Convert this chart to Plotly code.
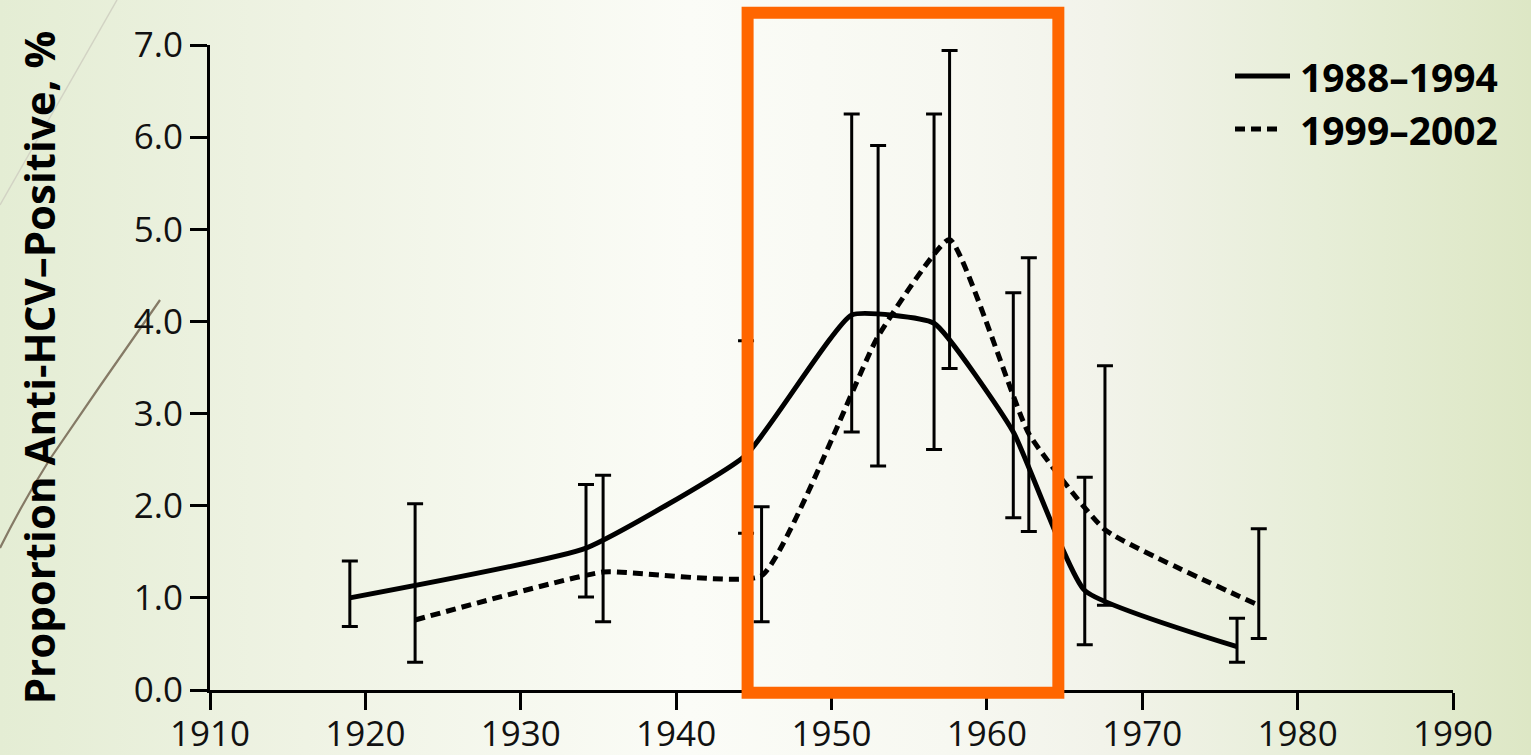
import base64
import plotly.graph_objects as go

# Birth-cohort prevalence, NHANES 1988-1994 survey
years_8894 = [1919.0, 1934.2, 1944.5, 1951.3, 1956.6, 1961.7, 1966.3, 1976.1]
pct_8894 = [1.00, 1.54, 2.55, 4.07, 3.98, 2.80, 1.08, 0.47]
lo_8894 = [0.69, 1.01, 1.70, 2.80, 2.61, 1.87, 0.49, 0.30]
hi_8894 = [1.40, 2.23, 3.79, 6.25, 6.25, 4.31, 2.31, 0.78]

# Birth-cohort prevalence, NHANES 1999-2002 survey
years_9902 = [1923.2, 1935.3, 1945.5, 1953.0, 1957.6, 1962.7, 1967.6, 1977.5]
pct_9902 = [0.76, 1.28, 1.24, 3.84, 4.89, 2.78, 1.74, 0.92]
lo_9902 = [0.30, 0.74, 0.74, 2.43, 3.49, 1.72, 0.92, 0.56]
hi_9902 = [2.02, 2.33, 1.99, 5.91, 6.94, 4.69, 3.52, 1.75]

series_names = ["1988–1994", "1999–2002"]
series_dash = ["solid", "10px,6px"]
y_title = "Proportion Anti-HCV–Positive, %"

X_RANGE = [1910, 1990]
Y_RANGE = [0, 7]
# highlighted birth-year window (1945-1965 cohort)
HIGHLIGHT_YEARS = (1944.6, 1964.6)
HIGHLIGHT_PCT = (-0.03, 7.35)

W, H = 1531, 755
ML, MR, MT, MB = 210, 78, 45, 65
PW, PH = W - ML - MR, H - MT - MB


def px_to_paper(px, py):
    return (px - ML) / PW, (H - MB - py) / PH


# slide backdrop: soft green/cream horizontal gradient with two decorative strokes
bg_svg = f"""<svg xmlns='http://www.w3.org/2000/svg' width='{W}' height='{H}' viewBox='0 0 {W} {H}'>
<defs><linearGradient id='g' x1='0' y1='0' x2='1' y2='0'>
<stop offset='0' stop-color='#e4edd4'/>
<stop offset='0.2' stop-color='#eff3e4'/>
<stop offset='0.45' stop-color='#fbfcf7'/>
<stop offset='0.62' stop-color='#f7f8f1'/>
<stop offset='0.72' stop-color='#f2f3ea'/>
<stop offset='0.86' stop-color='#e7eed8'/>
<stop offset='1' stop-color='#dde7c5'/>
</linearGradient></defs>
<rect width='{W}' height='{H}' fill='url(#g)'/>
<path d='M117,0 L0,205' stroke='#d2d3c4' stroke-width='1.5' fill='none'/>
<path d='M160,300 L100,386 L50,459 Q24,500 0,548' stroke='#857a66' stroke-width='2.2' fill='none'/>
</svg>"""
bg_uri = "data:image/svg+xml;base64," + base64.b64encode(bg_svg.encode()).decode()


def err_plus(v, hi):
    return [h - p for p, h in zip(v, hi)]


def err_minus(v, lo):
    return [p - l for p, l in zip(v, lo)]


fig = go.Figure()
for name, dash, xs, ys, lo, hi in [
    (series_names[0], series_dash[0], years_8894, pct_8894, lo_8894, hi_8894),
    (series_names[1], series_dash[1], years_9902, pct_9902, lo_9902, hi_9902),
]:
    fig.add_trace(go.Scatter(
        x=xs, y=ys, mode="lines", name=name, showlegend=False,
        line=dict(color="black", width=5, dash=dash, shape="spline", smoothing=0.4),
        error_y=dict(type="data", symmetric=False,
                     array=err_plus(ys, hi), arrayminus=err_minus(ys, lo),
                     color="black", thickness=3, width=8),
    ))


def to_xdom(v):
    return (v - X_RANGE[0]) / (X_RANGE[1] - X_RANGE[0])


def to_ydom(v):
    return (v - Y_RANGE[0]) / (Y_RANGE[1] - Y_RANGE[0])


fig.add_shape(
    type="rect", xref="x domain", yref="y domain",
    x0=to_xdom(HIGHLIGHT_YEARS[0]), x1=to_xdom(HIGHLIGHT_YEARS[1]),
    y0=to_ydom(HIGHLIGHT_PCT[0]), y1=to_ydom(HIGHLIGHT_PCT[1]),
    line=dict(color="#ff6600", width=12), fillcolor="rgba(0,0,0,0)", layer="above",
)

# key: line sample + bold label per survey period
key_rows = [(76, 1290), (129, 1281)]
for (row_y, sample_end), name, dash in zip(key_rows, series_names, series_dash):
    x0, y0 = px_to_paper(1235, row_y)
    x1, _ = px_to_paper(sample_end, row_y)
    fig.add_shape(type="line", xref="paper", yref="paper", x0=x0, x1=x1, y0=y0, y1=y0,
                  line=dict(color="black", width=5, dash=dash))
    tx, ty = px_to_paper(1299, row_y)
    fig.add_annotation(text=name, xref="paper", yref="paper", x=tx, y=ty,
                       xanchor="left", yanchor="middle", showarrow=False, borderpad=0,
                       font=dict(family="Open Sans", size=39, color="black", weight=700))

axis_common = dict(
    showgrid=False, zeroline=False, showline=True, linewidth=3, linecolor="black",
    ticks="outside", ticklen=17, tickwidth=3, tickcolor="black",
    tickfont=dict(family="Open Sans", size=35, color="#111111"),
)

fig.update_xaxes(range=X_RANGE, dtick=10, tick0=1910, ticklabelstandoff=-6, **axis_common)
fig.update_yaxes(
    range=Y_RANGE, dtick=1, tick0=0, tickformat=".1f", **axis_common,
    title=dict(text=y_title, standoff=66,
               font=dict(family="Open Sans", size=42, color="black", weight=700)),
)

fig.update_layout(
    width=W, height=H,
    margin=dict(l=ML, r=MR, t=MT, b=MB, autoexpand=False),
    paper_bgcolor="white", plot_bgcolor="rgba(0,0,0,0)",
    images=[dict(source=bg_uri, xref="paper", yref="paper",
                 x=-ML / PW, y=1 + MT / PH, sizex=W / PW, sizey=H / PH,
                 xanchor="left", yanchor="top", sizing="stretch", layer="below")],
    showlegend=False,
    hovermode=False,
)

fig.write_html("out.html")
